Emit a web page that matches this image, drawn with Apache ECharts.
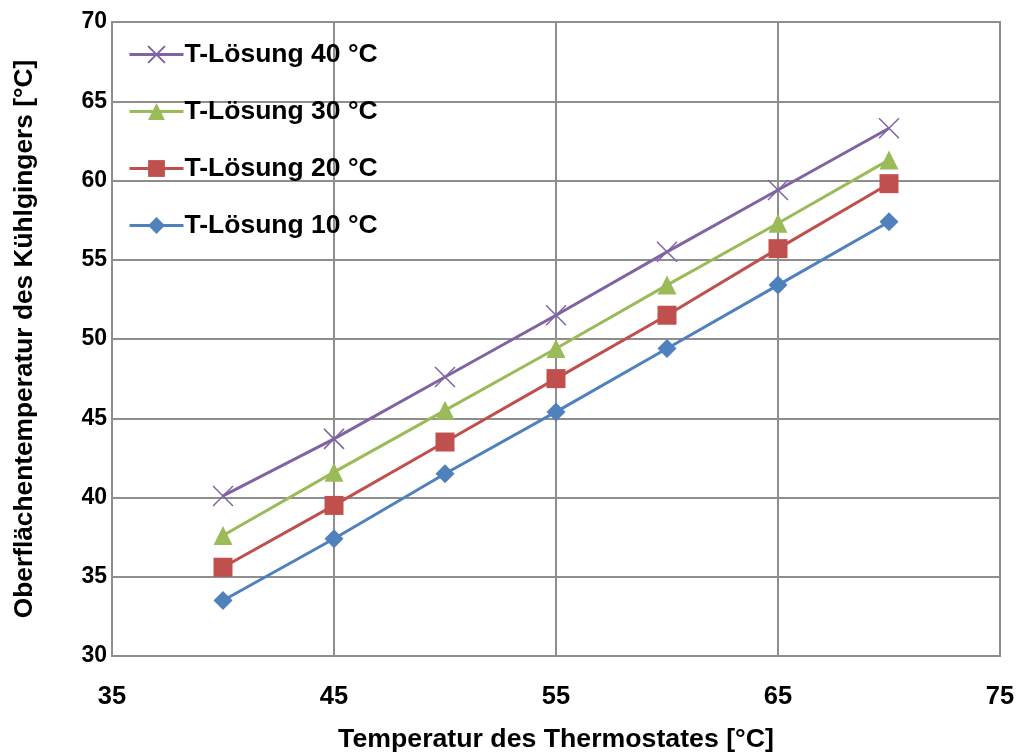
<!DOCTYPE html>
<html>
<head>
<meta charset="utf-8">
<script src="https://cdn.jsdelivr.net/npm/echarts@6/dist/echarts.min.js"></script>
<style>
  html, body { margin: 0; padding: 0; background: #ffffff; }
  #chart { width: 1019px; height: 754px; }
</style>
</head>
<body>
<div id="chart"></div>
<script>
// Thermostat temperature [°C] on the x axis
const thermostat = [40, 45, 50, 55, 60, 65, 70];

// Surface temperature of the cooling finger [°C] per solution temperature
const loesung40 = [40.1, 43.7, 47.6, 51.5, 55.5, 59.4, 63.3];
const loesung30 = [37.6, 41.6, 45.5, 49.4, 53.4, 57.3, 61.3];
const loesung20 = [35.6, 39.5, 43.5, 47.5, 51.5, 55.7, 59.8];
const loesung10 = [33.5, 37.4, 41.5, 45.4, 49.4, 53.4, 57.4];

const seriesNames = ['T-Lösung 40 °C', 'T-Lösung 30 °C', 'T-Lösung 20 °C', 'T-Lösung 10 °C'];

const FONT = '"Liberation Sans", Arial, sans-serif';
const GRID_COLOR = '#8e8e8e';

function pairs(ys) {
  return thermostat.map((x, i) => [x, ys[i]]);
}

function lineSeries(name, ys, color, symbol, size, extraItemStyle) {
  return {
    name: name,
    type: 'line',
    data: pairs(ys),
    symbol: symbol,
    symbolSize: size,
    showAllSymbol: true,
    lineStyle: { color: color, width: 3 },
    itemStyle: Object.assign({ color: color }, extraItemStyle || {}),
    emphasis: { disabled: true },
    animation: false
  };
}

const chart = echarts.init(document.getElementById('chart'), null, { renderer: 'canvas' });

chart.setOption({
  backgroundColor: '#ffffff',
  animation: false,
  grid: {
    left: 112, right: 19, top: 22, bottom: 98,
    show: true, borderColor: GRID_COLOR, borderWidth: 2,
    containLabel: false,
    outerBoundsMode: 'none'
  },
  legend: {
    orient: 'vertical',
    left: 123,
    top: 34,
    itemWidth: 54,
    itemHeight: 21,
    itemGap: 26,
    data: seriesNames,
    lineStyle: { width: 3 },
    textStyle: {
      fontFamily: FONT, fontWeight: 'bold', fontSize: 26.5, color: '#000000',
      lineHeight: 31, padding: [0, 0, 0, -4]
    }
  },
  xAxis: {
    type: 'value',
    min: 35, max: 75, interval: 10,
    name: 'Temperatur des Thermostates [°C]',
    nameLocation: 'middle',
    nameGap: 70,
    nameTextStyle: { fontFamily: FONT, fontWeight: 'bold', fontSize: 26.7, color: '#000000' },
    axisLine: { show: true, lineStyle: { color: GRID_COLOR, width: 2 } },
    axisTick: { show: false },
    axisLabel: { fontFamily: FONT, fontWeight: 'bold', fontSize: 25.5, color: '#000000', margin: 28 },
    splitLine: { show: true, lineStyle: { color: GRID_COLOR, width: 2 } }
  },
  yAxis: {
    type: 'value',
    min: 30, max: 70, interval: 5,
    name: 'Oberflächentemperatur des Kühlgingers [°C]',
    nameLocation: 'middle',
    nameGap: 74,
    nameTextStyle: { fontFamily: FONT, fontWeight: 'bold', fontSize: 26.3, color: '#000000' },
    axisLine: { show: true, lineStyle: { color: GRID_COLOR, width: 2 } },
    axisTick: { show: false },
    axisLabel: { fontFamily: FONT, fontWeight: 'bold', fontSize: 23, color: '#000000', margin: 5 },
    splitLine: { show: true, lineStyle: { color: GRID_COLOR, width: 2 } }
  },
  series: [
    lineSeries(seriesNames[0], loesung40, '#8064A2', 'path://M0,0L10,10M10,0L0,10', 20,
      { borderColor: '#8064A2', borderWidth: 1.5 }),
    lineSeries(seriesNames[1], loesung30, '#9BBB59', 'triangle', 19),
    lineSeries(seriesNames[2], loesung20, '#C0504D', 'rect', 19),
    lineSeries(seriesNames[3], loesung10, '#4F81BD', 'diamond', 19)
  ]
});
</script>
</body>
</html>
